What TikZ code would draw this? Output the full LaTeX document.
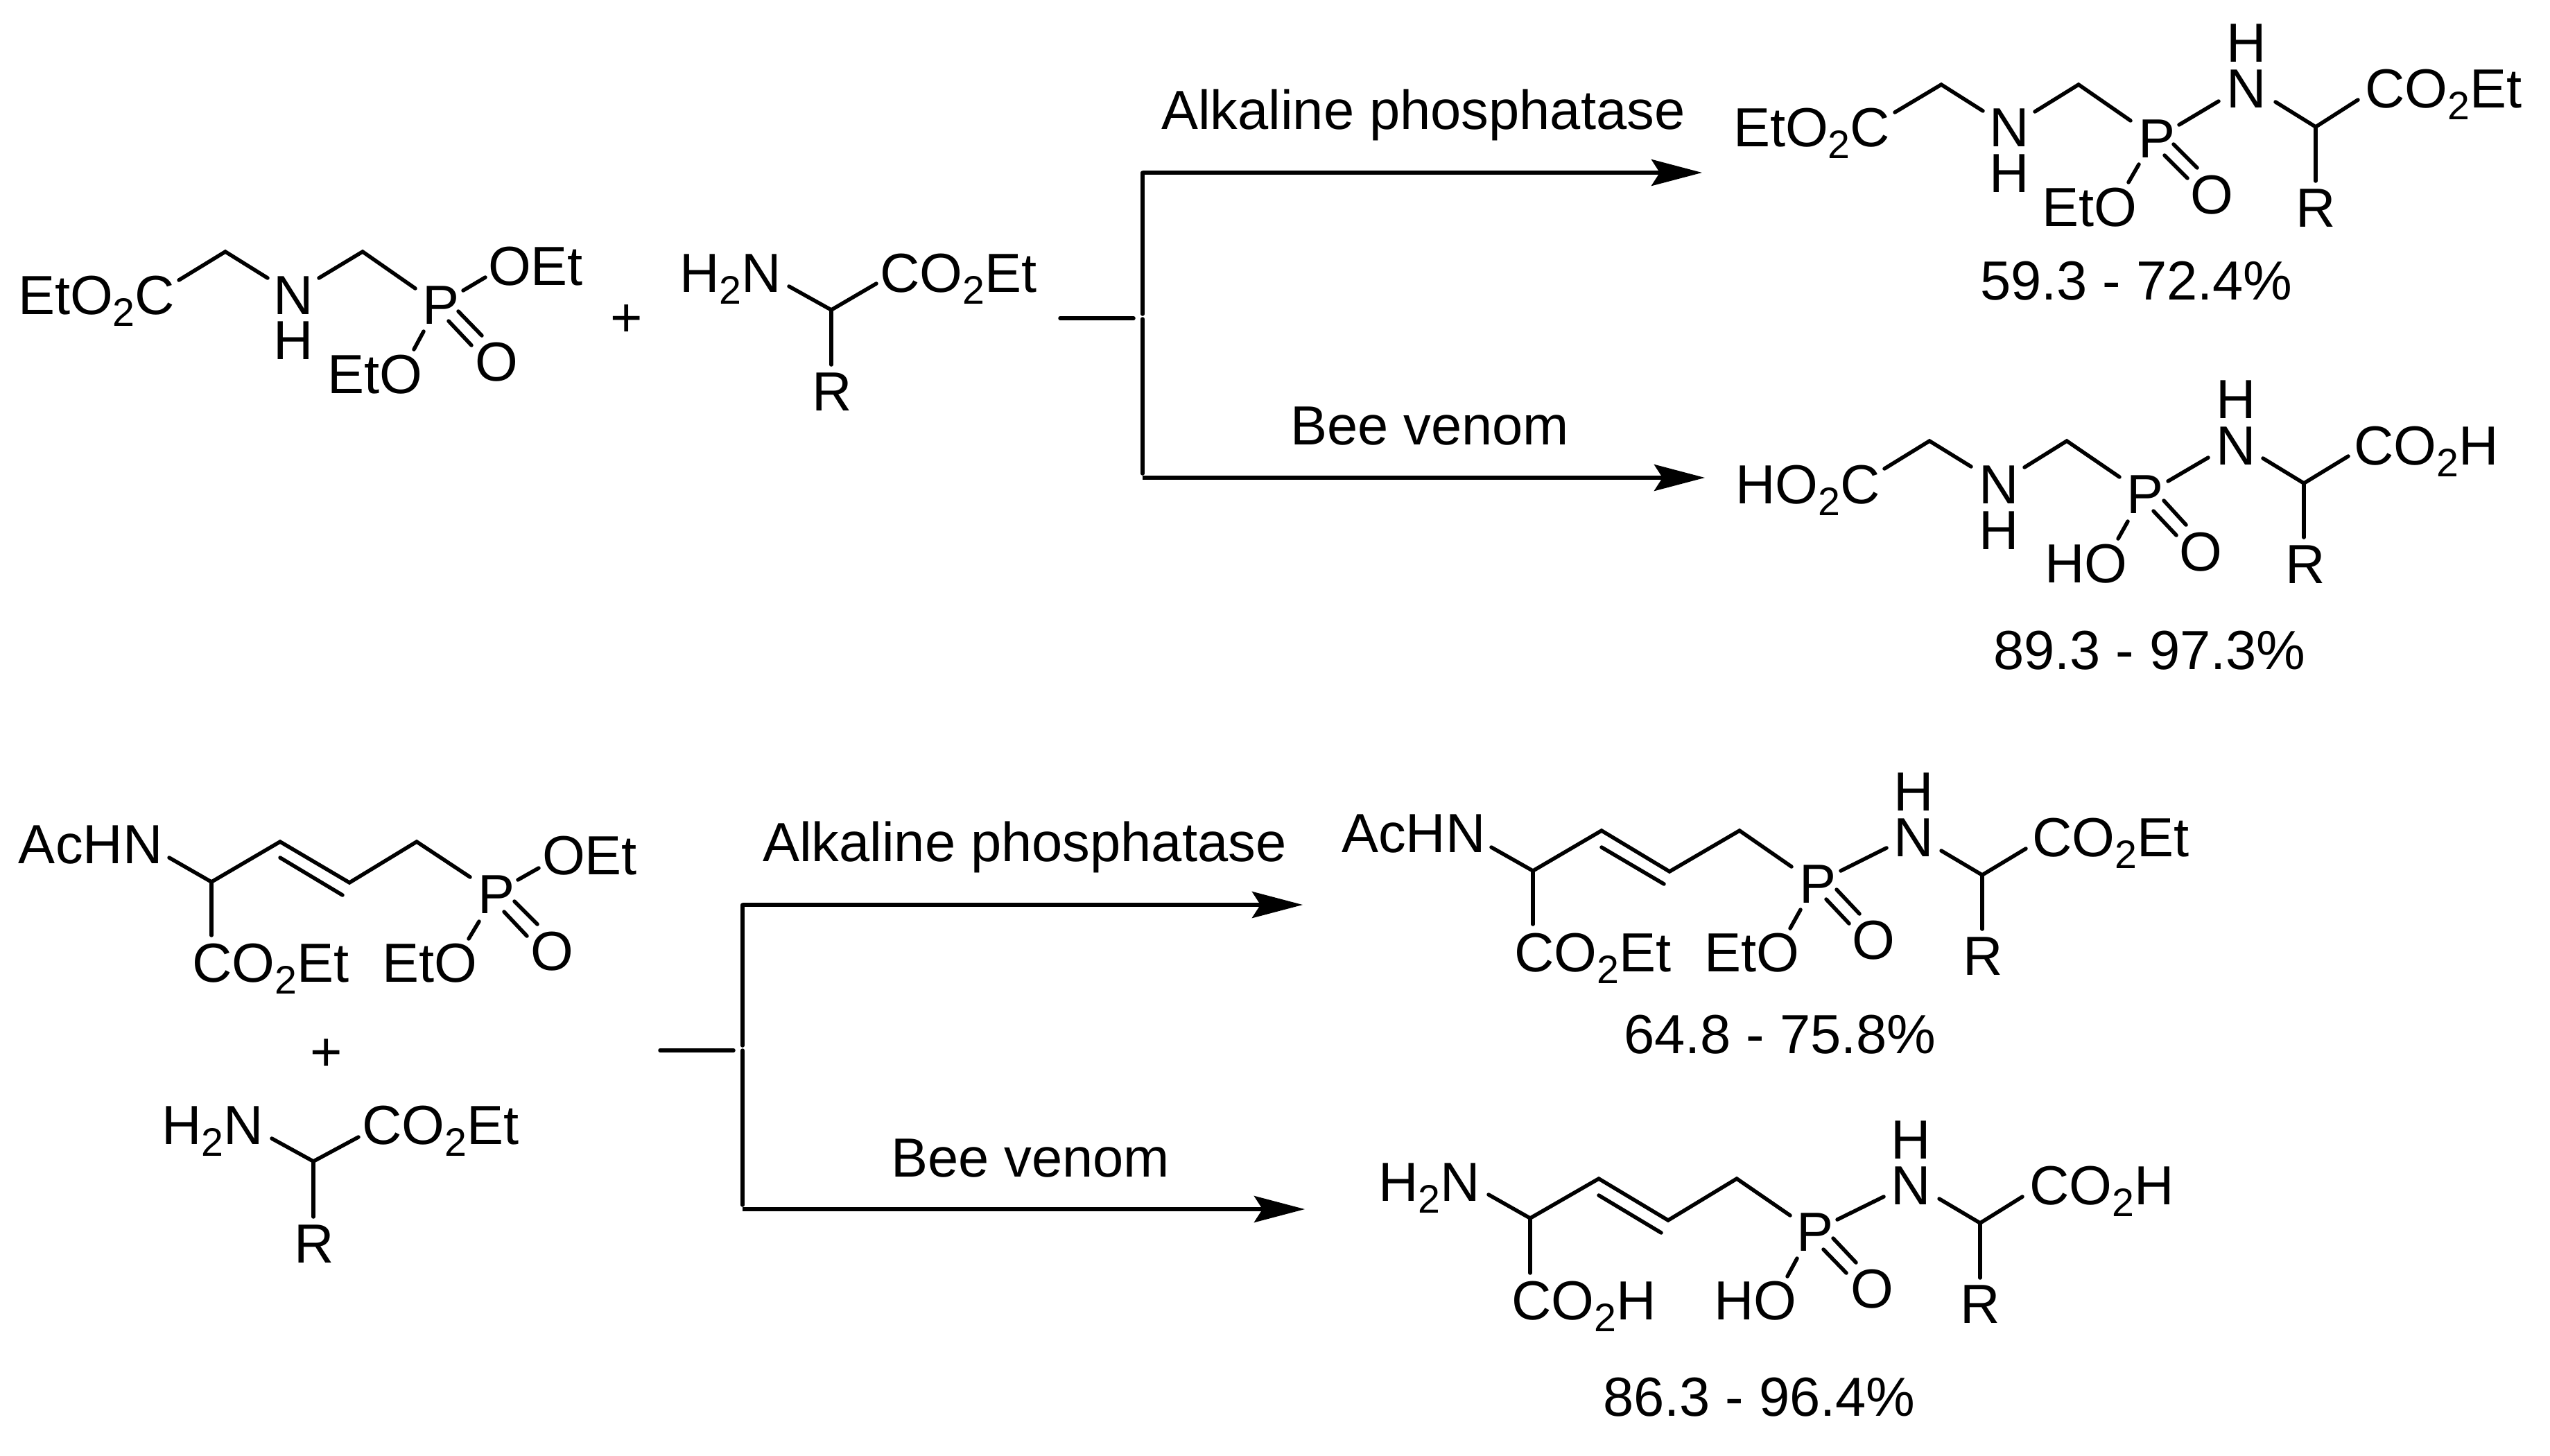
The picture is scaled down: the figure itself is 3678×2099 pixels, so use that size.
\documentclass[tikz,border=0pt]{standalone}
\usepackage{fontspec}
\setmainfont{Liberation Sans}
\usetikzlibrary{arrows.meta}
\newcommand{\subtwo}{\raisebox{-0.17cm}{\fontsize{16.3}{16.3}\selectfont 2}}
\tikzset{
  chem/.style={font=\fontsize{22.6}{27}\selectfont,inner sep=0pt,outer sep=0pt,anchor=base west,text=black},
  plus/.style={font=\fontsize{22.6}{27}\selectfont,inner sep=0pt,outer sep=0pt,anchor=center},
  bond/.style={line width=0.055cm,line cap=round,line join=miter,black},
  rxnline/.style={line width=0.055cm,line cap=round,black},
  rxnarrow/.style={line width=0.055cm,black,-{Stealth[length=0.73cm,width=0.38cm,inset=0.12cm]}}
}
\begin{document}
\begin{tikzpicture}[x=0.01cm,y=-0.01cm]
\useasboundingbox (0,0) rectangle (3678,2099);
\fill[white] (0,0) rectangle (3678,2099);

% ---------- reactant 1 ----------
\node[chem] (aEst) at (26,453) {EtO\subtwo C};
\node[chem] (aN) at (394,453) {N};
\node[chem] (aH) at (394,518) {H};
\node[chem] (aP) at (609,467) {P};
\node[chem] (aOEt) at (704,411) {OEt};
\node[chem] (aO) at (685,549) {O};
\node[chem] (aEtO) at (472,567) {EtO};
\node[plus] (aPlus) at (904,463) {+};
\coordinate (a1) at (258,404); \coordinate (a2) at (325,363); \coordinate (a3) at (386,401);
\coordinate (a4) at (460,401); \coordinate (a5) at (523,363); \coordinate (a6) at (599,416);
\coordinate (a7) at (668,419); \coordinate (a8) at (700,400);
\coordinate (a9) at (661,449); \coordinate (a10) at (695,484);
\coordinate (a11) at (647,463); \coordinate (a12) at (680,498);
\coordinate (a13) at (611,478); \coordinate (a14) at (597,504);
\draw[bond] (a1)--(a2)--(a3);
\draw[bond] (a4)--(a5)--(a6);
\draw[bond] (a7)--(a8);
\draw[bond] (a9)--(a10);
\draw[bond] (a11)--(a12);
\draw[bond] (a13)--(a14);

% ---------- amine 1 ----------
\node[chem] (bNH) at (980,421) {H\subtwo N};
\node[chem] (bEst) at (1269,421) {CO\subtwo Et};
\node[chem] (bR) at (1171,592) {R};
\coordinate (b1) at (1138,413); \coordinate (b2) at (1199,447); \coordinate (b3) at (1264,409); \coordinate (b4) at (1199,526);
\draw[bond] (b1)--(b2)--(b3);
\draw[bond] (b2)--(b4);

% ---------- branch 1 ----------
\coordinate (s1a) at (1529,459); \coordinate (s1b) at (1635,459);
\coordinate (v1t) at (1648,249); \coordinate (v1u) at (1648,453);
\coordinate (v1l) at (1648,460); \coordinate (v1b) at (1648,683);
\coordinate (v1c) at (1648,689);
\coordinate (t1a) at (2455,249); \coordinate (t1b) at (2459,689);
\draw[rxnline] (s1a)--(s1b);
\draw[rxnline] (v1u)--(v1t);
\draw[rxnline] (v1l)--(v1b);
\draw[rxnarrow] (v1t)--(t1a);
\draw[rxnarrow] (v1c)--(t1b);
\node[chem] (l1) at (1675,186) {Alkaline phosphatase};
\node[chem] (l2) at (1861,641) {Bee venom};

% ---------- product 1 ----------
\node[chem] (cEst) at (2500,211) {EtO\subtwo C};
\node[chem] (cN) at (2869,211) {N};
\node[chem] (cH) at (2869,277) {H};
\node[chem] (cP) at (3084,227) {P};
\node[chem] (cN2) at (3211,155) {N};
\node[chem] (cH2) at (3211,89) {H};
\node[chem] (cEst2) at (3411,155) {CO\subtwo Et};
\node[chem] (cR) at (3311,327) {R};
\node[chem] (cO) at (3159,308) {O};
\node[chem] (cEtO) at (2945,326) {EtO};
\node[chem] (cY) at (2856,432) {59.3 - 72.4\%};
\coordinate (c1) at (2733,162); \coordinate (c2) at (2800,122); \coordinate (c3) at (2860,160);
\coordinate (c4) at (2935,161); \coordinate (c5) at (2998,122); \coordinate (c6) at (3073,174);
\coordinate (c7) at (3143,180); \coordinate (c8) at (3200,146);
\coordinate (c9) at (3282,147); \coordinate (c10) at (3340,183); \coordinate (c11) at (3401,144); \coordinate (c12) at (3340,261);
\coordinate (c13) at (3135,208); \coordinate (c14) at (3169,242);
\coordinate (c15) at (3122,224); \coordinate (c16) at (3155,257);
\coordinate (c17) at (3085,237); \coordinate (c18) at (3070,263);
\draw[bond] (c1)--(c2)--(c3);
\draw[bond] (c4)--(c5)--(c6);
\draw[bond] (c7)--(c8);
\draw[bond] (c9)--(c10)--(c11);
\draw[bond] (c10)--(c12);
\draw[bond] (c13)--(c14);
\draw[bond] (c15)--(c16);
\draw[bond] (c17)--(c18);

% ---------- product 2 ----------
\node[chem] (dEst) at (2503,726) {HO\subtwo C};
\node[chem] (dN) at (2854,726) {N};
\node[chem] (dH) at (2854,792) {H};
\node[chem] (dP) at (3067,740) {P};
\node[chem] (dN2) at (3196,670) {N};
\node[chem] (dH2) at (3196,603) {H};
\node[chem] (dEst2) at (3395,670) {CO\subtwo H};
\node[chem] (dR) at (3296,841) {R};
\node[chem] (dO) at (3143,823) {O};
\node[chem] (dHO) at (2949,840) {HO};
\node[chem] (dY) at (2875,965) {89.3 - 97.3\%};
\coordinate (d1) at (2718,676); \coordinate (d2) at (2783,636); \coordinate (d3) at (2843,673);
\coordinate (d4) at (2920,674); \coordinate (d5) at (2981,636); \coordinate (d6) at (3057,688);
\coordinate (d7) at (3127,694); \coordinate (d8) at (3185,660);
\coordinate (d9) at (3264,661); \coordinate (d10) at (3323,697); \coordinate (d11) at (3387,658); \coordinate (d12) at (3323,775);
\coordinate (d13) at (3121,722); \coordinate (d14) at (3153,757);
\coordinate (d15) at (3106,737); \coordinate (d16) at (3139,772);
\coordinate (d17) at (3069,752); \coordinate (d18) at (3055,777);
\draw[bond] (d1)--(d2)--(d3);
\draw[bond] (d4)--(d5)--(d6);
\draw[bond] (d7)--(d8);
\draw[bond] (d9)--(d10)--(d11);
\draw[bond] (d10)--(d12);
\draw[bond] (d13)--(d14);
\draw[bond] (d15)--(d16);
\draw[bond] (d17)--(d18);

% ---------- reactant 3 ----------
\node[chem] (eAc) at (27,1245) {AcHN};
\node[chem] (eEst) at (277,1416) {CO\subtwo Et};
\node[chem] (eEtO) at (551,1416) {EtO};
\node[chem] (eP) at (689,1317) {P};
\node[chem] (eOEt) at (782,1261) {OEt};
\node[chem] (eO) at (765,1399) {O};
\node[plus] (ePlus) at (471,1522) {+};
\coordinate (e1) at (244,1237); \coordinate (e2) at (305,1272); \coordinate (e3) at (404,1214);
\coordinate (e4) at (504,1273); \coordinate (e5) at (601,1214); \coordinate (e6) at (678,1265);
\coordinate (e7) at (404,1237); \coordinate (e8) at (494,1291);
\coordinate (e9) at (305,1349);
\coordinate (e10) at (747,1269); \coordinate (e11) at (777,1252);
\coordinate (e12) at (742,1300); \coordinate (e13) at (775,1333);
\coordinate (e14) at (727,1315); \coordinate (e15) at (760,1350);
\coordinate (e16) at (691,1329); \coordinate (e17) at (676,1354);
\draw[bond] (e1)--(e2)--(e3)--(e4)--(e5)--(e6);
\draw[bond] (e7)--(e8);
\draw[bond] (e2)--(e9);
\draw[bond] (e10)--(e11);
\draw[bond] (e12)--(e13);
\draw[bond] (e14)--(e15);
\draw[bond] (e16)--(e17);

% ---------- amine 2 ----------
\node[chem] (fNH) at (233,1650) {H\subtwo N};
\node[chem] (fEst) at (522,1650) {CO\subtwo Et};
\node[chem] (fR) at (424,1821) {R};
\coordinate (f1) at (392,1642); \coordinate (f2) at (452,1675); \coordinate (f3) at (517,1640); \coordinate (f4) at (452,1755);
\draw[bond] (f1)--(f2)--(f3);
\draw[bond] (f2)--(f4);

% ---------- branch 2 ----------
\coordinate (s2a) at (952,1515); \coordinate (s2b) at (1058,1515);
\coordinate (v2t) at (1071,1305); \coordinate (v2u) at (1071,1508);
\coordinate (v2l) at (1071,1515); \coordinate (v2b) at (1071,1738);
\coordinate (v2c) at (1071,1744);
\coordinate (t2a) at (1879,1305); \coordinate (t2b) at (1882,1744);
\draw[rxnline] (s2a)--(s2b);
\draw[rxnline] (v2u)--(v2t);
\draw[rxnline] (v2l)--(v2b);
\draw[rxnarrow] (v2t)--(t2a);
\draw[rxnarrow] (v2c)--(t2b);
\node[chem] (l3) at (1100,1242) {Alkaline phosphatase};
\node[chem] (l4) at (1285,1697) {Bee venom};

% ---------- product 3 ----------
\node[chem] (gAc) at (1935,1229) {AcHN};
\node[chem] (gEst) at (2184,1401) {CO\subtwo Et};
\node[chem] (gEtO) at (2458,1401) {EtO};
\node[chem] (gP) at (2595,1302) {P};
\node[chem] (gN) at (2731,1235) {N};
\node[chem] (gH) at (2731,1169) {H};
\node[chem] (gEst2) at (2931,1235) {CO\subtwo Et};
\node[chem] (gR) at (2831,1406) {R};
\node[chem] (gO) at (2671,1383) {O};
\node[chem] (gY) at (2342,1519) {64.8 - 75.8\%};
\coordinate (g1) at (2151,1222); \coordinate (g2) at (2211,1256); \coordinate (g3) at (2310,1198);
\coordinate (g4) at (2408,1257); \coordinate (g5) at (2509,1198); \coordinate (g6) at (2584,1250);
\coordinate (g7) at (2310,1222); \coordinate (g8) at (2400,1275);
\coordinate (g9) at (2211,1333);
\coordinate (g10) at (2655,1256); \coordinate (g11) at (2721,1223);
\coordinate (g12) at (2800,1227); \coordinate (g13) at (2859,1262); \coordinate (g14) at (2922,1224); \coordinate (g15) at (2859,1340);
\coordinate (g16) at (2649,1283); \coordinate (g17) at (2682,1318);
\coordinate (g18) at (2634,1297); \coordinate (g19) at (2667,1332);
\coordinate (g20) at (2597,1312); \coordinate (g21) at (2582,1339);
\draw[bond] (g1)--(g2)--(g3)--(g4)--(g5)--(g6);
\draw[bond] (g7)--(g8);
\draw[bond] (g2)--(g9);
\draw[bond] (g10)--(g11);
\draw[bond] (g12)--(g13)--(g14);
\draw[bond] (g13)--(g15);
\draw[bond] (g16)--(g17);
\draw[bond] (g18)--(g19);
\draw[bond] (g20)--(g21);

% ---------- product 4 ----------
\node[chem] (hNH) at (1988,1732) {H\subtwo N};
\node[chem] (hEst) at (2180,1903) {CO\subtwo H};
\node[chem] (hHO) at (2472,1903) {HO};
\node[chem] (hP) at (2591,1804) {P};
\node[chem] (hN) at (2727,1737) {N};
\node[chem] (hH) at (2727,1671) {H};
\node[chem] (hEst2) at (2927,1737) {CO\subtwo H};
\node[chem] (hR) at (2827,1908) {R};
\node[chem] (hO) at (2669,1886) {O};
\node[chem] (hY) at (2312,2042) {86.3 - 96.4\%};
\coordinate (h1) at (2147,1723); \coordinate (h2) at (2207,1757); \coordinate (h3) at (2306,1700);
\coordinate (h4) at (2406,1760); \coordinate (h5) at (2505,1700); \coordinate (h6) at (2582,1753);
\coordinate (h7) at (2306,1724); \coordinate (h8) at (2396,1778);
\coordinate (h9) at (2207,1836);
\coordinate (h10) at (2650,1759); \coordinate (h11) at (2717,1726);
\coordinate (h12) at (2797,1729); \coordinate (h13) at (2856,1764); \coordinate (h14) at (2917,1726); \coordinate (h15) at (2856,1843);
\coordinate (h16) at (2644,1786); \coordinate (h17) at (2677,1821);
\coordinate (h18) at (2630,1802); \coordinate (h19) at (2663,1836);
\coordinate (h20) at (2592,1815); \coordinate (h21) at (2578,1841);
\draw[bond] (h1)--(h2)--(h3)--(h4)--(h5)--(h6);
\draw[bond] (h7)--(h8);
\draw[bond] (h2)--(h9);
\draw[bond] (h10)--(h11);
\draw[bond] (h12)--(h13)--(h14);
\draw[bond] (h13)--(h15);
\draw[bond] (h16)--(h17);
\draw[bond] (h18)--(h19);
\draw[bond] (h20)--(h21);
\end{tikzpicture}
\end{document}
